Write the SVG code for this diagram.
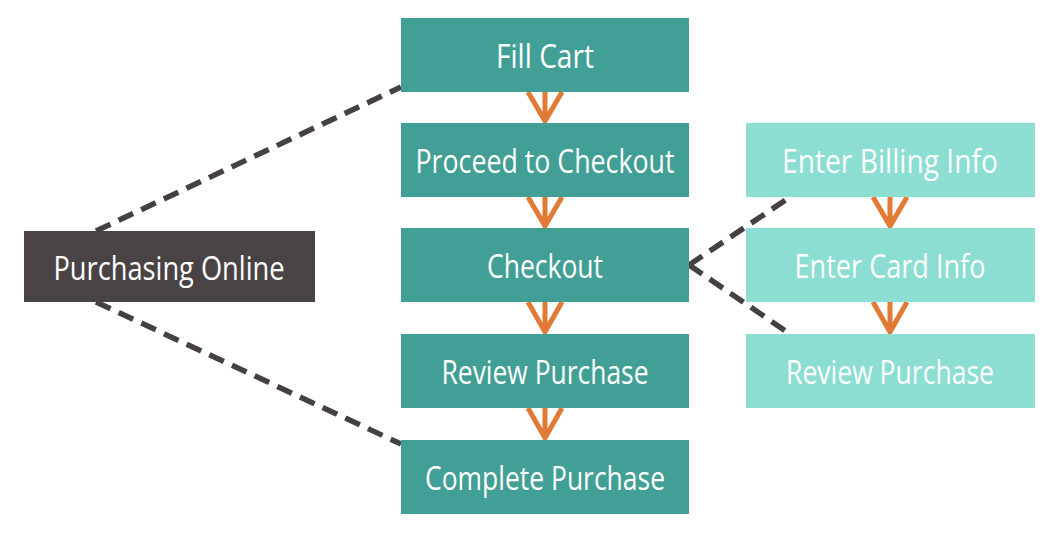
<svg xmlns="http://www.w3.org/2000/svg" width="1063" height="544" viewBox="0 0 1063 544">
<style>
.dk{fill:#4a4346}
.md{fill:#429f95}
.lt{fill:#8cddd2}
text{font-family:"Open Sans","DejaVu Sans",sans-serif;font-size:33px;fill:#ffffff;text-anchor:middle}
.dash{stroke:#474043;stroke-width:5.5;stroke-dasharray:16 9;fill:none}
.arr{stroke:#e07a35;stroke-width:5;fill:none;stroke-linejoin:miter}
</style>
<rect width="1063" height="544" fill="#ffffff"/>
<g id="connectors">
<path class="dash" d="M96 231 L401 87"/>
<path class="dash" d="M96 302 L401 444"/>
<path class="dash" d="M689 265 L790 197"/>
<path class="dash" d="M689 265 L790 334"/>
<path class="arr" d="M545 92 V121 M528 92 L545 121 L562 92"/>
<path class="arr" d="M545 197 V226 M528 197 L545 226 L562 197"/>
<path class="arr" d="M545 302 V332 M528 302 L545 332 L562 302"/>
<path class="arr" d="M545 408 V438 M528 408 L545 438 L562 408"/>
<path class="arr" d="M890 197 V226 M873 197 L890 226 L907 197"/>
<path class="arr" d="M890 302 V332 M873 302 L890 332 L907 302"/>
</g>
<g id="purchasing-online"><rect class="dk" x="24" y="231" width="291" height="71"/><text x="169" y="280" textLength="231" lengthAdjust="spacingAndGlyphs">Purchasing Online</text></g>
<g id="fill-cart"><rect class="md" x="401" y="18" width="288" height="74"/><text x="545" y="68" textLength="98" lengthAdjust="spacingAndGlyphs">Fill Cart</text></g>
<g id="proceed"><rect class="md" x="401" y="123" width="288" height="74"/><text x="545" y="173" textLength="259" lengthAdjust="spacingAndGlyphs">Proceed to Checkout</text></g>
<g id="checkout"><rect class="md" x="401" y="228" width="288" height="74"/><text x="545" y="278" textLength="116" lengthAdjust="spacingAndGlyphs">Checkout</text></g>
<g id="review"><rect class="md" x="401" y="334" width="288" height="74"/><text x="545" y="384" textLength="207" lengthAdjust="spacingAndGlyphs">Review Purchase</text></g>
<g id="complete"><rect class="md" x="401" y="440" width="288" height="74"/><text x="545" y="490" textLength="240" lengthAdjust="spacingAndGlyphs">Complete Purchase</text></g>
<g id="billing"><rect class="lt" x="746" y="123" width="289" height="74"/><text x="890" y="173" textLength="216" lengthAdjust="spacingAndGlyphs">Enter Billing Info</text></g>
<g id="card"><rect class="lt" x="746" y="228" width="289" height="74"/><text x="890" y="278" textLength="191" lengthAdjust="spacingAndGlyphs">Enter Card Info</text></g>
<g id="review2"><rect class="lt" x="746" y="334" width="289" height="74"/><text x="890" y="384" textLength="208" lengthAdjust="spacingAndGlyphs">Review Purchase</text></g>
</svg>
